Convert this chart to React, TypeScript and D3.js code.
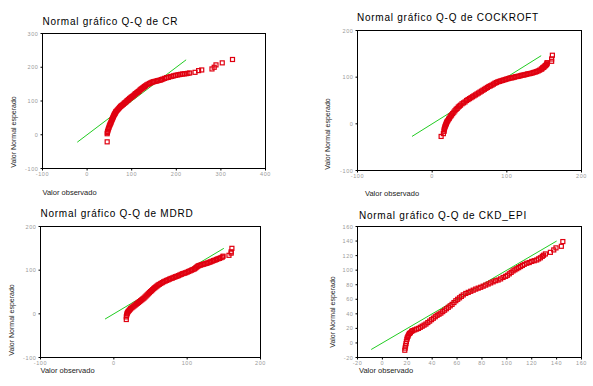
import React from 'react';
import * as d3 from 'd3';

// observed value, expected normal value
const CR_POINTS: [number, number][] = [
  [45, -21], [45, 3], [45.5, 7], [46, 10], [47, 14], [48, 18], [49, 22], [50, 26], [51, 29], [52, 32],
  [53, 35], [54, 38], [55, 42], [56, 45], [57, 48], [58, 51], [59, 54], [60, 57], [61, 60], [62, 62],
  [63, 64], [64, 67], [65, 69], [67, 72], [69, 75], [71, 78], [73, 81], [75, 84], [77, 86], [79, 88],
  [81, 90], [83, 93], [85, 95], [87, 97], [89, 100], [91, 102], [93, 104], [95, 107], [97, 109], [99, 111],
  [101, 113], [103, 115], [105, 117], [107, 120], [109, 122], [111, 124], [113, 126], [115, 128], [117, 130],
  [119, 133], [121, 135], [123, 137], [125, 139], [127, 141], [129, 143], [131, 145], [134, 148], [137, 150],
  [140, 152], [143, 154], [146, 156], [149, 157], [152, 158], [155, 159], [158, 160], [161, 161], [164, 162],
  [167, 163.5], [170, 165], [174, 167], [178, 169], [182, 170], [186, 172], [190, 173], [194, 174.5],
  [198, 176], [202, 177], [206, 178], [210, 179], [214, 180], [218, 180.5], [222, 181], [226, 182], [230, 183],
  [242, 185], [250, 190], [257, 192], [280, 195], [285, 200], [289, 207], [303, 213], [326, 223],
];

const COCKROFT_POINTS: [number, number][] = [
  [12, -27], [15, -21], [16, -16], [16, -13], [16.5, -10], [17, -7], [17.5, -5], [18, -3], [18.5, -1], [19, 1],
  [19.5, 3], [20, 5], [21, 7], [22, 10], [23, 12], [24, 15], [25, 17], [26, 19], [27.5, 22], [29, 25],
  [30.5, 28], [32, 31], [33.5, 33], [35, 36], [36.5, 38], [38, 40], [40, 43], [42, 45], [44, 47], [46, 50],
  [48, 52], [50, 54], [52, 56], [54, 58], [56, 60], [58, 62], [60, 64], [62, 66], [64, 68], [66, 70],
  [68, 72], [70, 74], [72, 76], [74, 78], [76, 80], [78, 81.5], [80, 83], [82, 85], [84, 87], [86, 88.5],
  [88, 90], [90, 91], [92, 92], [94, 93], [96, 94], [98, 95], [100, 96], [102, 97], [104, 98], [106, 98.5],
  [108, 99], [110, 100], [112, 101], [114, 101.5], [116, 102], [118, 103], [120, 104], [122, 104.5],
  [124, 105], [126, 106], [128, 107], [130, 107.5], [132, 108], [134, 109], [136, 110], [138, 111],
  [140, 112], [142, 113.5], [144, 115], [146, 117], [147, 118], [148, 120], [149, 121], [150, 122],
  [151, 124], [152, 125], [153, 127], [153.5, 128], [154, 130], [154, 131], [160, 134], [160, 139], [161, 147],
];

const MDRD_POINTS: [number, number][] = [
  [17, -13], [17, -7], [17.5, -3], [18, 0], [18.5, 2], [19, 4], [20, 6], [21, 8], [22, 10], [23, 12],
  [24.5, 14], [26, 16], [27.5, 18], [29, 20], [30.5, 22], [32, 24], [33.5, 26], [35, 28], [36.5, 30],
  [38, 32], [39.5, 34], [41, 36], [42.5, 38.5], [44, 41], [45.5, 43.5], [47, 46], [48.5, 48.5], [50, 51],
  [51.5, 53], [53, 55.5], [54.5, 58], [56, 60], [57.5, 62], [59, 64], [60.5, 66], [62, 67.5], [64, 69.5],
  [66, 71.5], [68, 73.5], [70, 75], [72, 76.5], [74, 78], [76, 79.5], [78, 81], [80, 82], [82, 83.5],
  [84, 85], [86, 86], [88, 87.5], [90, 89], [92, 90.5], [94, 92], [96, 93], [98, 94], [100, 95.5],
  [102, 97], [104, 98.5], [106, 100], [108, 101.5], [110, 103], [111.5, 105], [113, 107], [114.5, 109],
  [116, 110.5], [118, 111.5], [120, 112.5], [122, 113.5], [124, 114.5], [126, 115.5], [128, 116.5],
  [130, 118], [132, 119], [134, 120.5], [136, 122], [138, 123], [140, 124.5], [142, 126], [144, 127],
  [146, 128.5], [148, 130], [149, 132], [157, 134], [160, 139], [160, 142], [161, 150],
];

const CKD_EPI_POINTS: [number, number][] = [
  [18, -10], [18.3, -7], [18.6, -4], [19, -1], [19.3, 2], [19.7, 5], [20, 7], [20.5, 9], [21, 11],
  [21.7, 13], [22.5, 14], [23.5, 16], [24.5, 17], [26, 18], [27.5, 19], [29, 20], [30.5, 21.5], [32, 23],
  [33.5, 24.5], [35, 26], [36.5, 28], [38, 30], [39.5, 32], [41, 34], [42.5, 36], [44, 38], [45.5, 39.5],
  [47, 41], [48.5, 43], [50, 45], [51.5, 47], [53, 49], [54.5, 51], [56, 53], [57.5, 55.5], [59, 58],
  [60.5, 60], [62, 62], [63.5, 64], [65, 66], [67, 68], [69, 69.5], [71, 71], [73, 72.5], [75, 74],
  [77, 75.3], [79, 76.5], [81, 78], [83, 79.5], [85, 81], [87, 82.5], [89, 84], [91, 85.5], [93, 86.5],
  [95, 88], [97, 90], [99, 91.5], [100.5, 93], [102, 95], [103.5, 97], [105, 99], [106.5, 100.5],
  [108, 102], [109.5, 103.5], [111, 105], [112.5, 106.5], [114, 108], [116, 109.5], [118, 110.5],
  [120, 112], [122, 113], [124, 114], [125.5, 115.5], [127, 117], [128.5, 119], [129.5, 120.5],
  [131, 122.3], [135, 124.5], [137.7, 127.8], [139.5, 130.6], [143.8, 132.8], [145, 139.3],
];

// y = x reference line, start and end on the observed axis
const CR_LINE = [-22, 222];
const COCKROFT_LINE = [-27, 146];
const MDRD_LINE = [-12, 150];
const CKD_EPI_LINE = [-9, 140];

const CR_X_TICKS = [-100, 0, 100, 200, 300, 400];
const CR_Y_TICKS = [-100, 0, 100, 200, 300];
const GFR_TICKS = [-100, 0, 100, 200];
const CKD_TICKS = [-20, 0, 20, 40, 60, 80, 100, 120, 140, 160];

const Y_TITLE = 'Valor Normal esperado';
const X_TITLE = 'Valor observado';

interface PanelProps {
  title: string;
  points: [number, number][];
  refLine: number[];
  xTicks: number[];
  yTicks: number[];
  frame: { x0: number; x1: number; y0: number; y1: number };
  titlePos: [number, number];
  yTitlePos: [number, number];
  xTitlePos: [number, number];
}

const QQPanel: React.FC<PanelProps> = ({ title, points, refLine, xTicks, yTicks, frame, titlePos, yTitlePos, xTitlePos }) => {
  const x = d3.scaleLinear().domain(d3.extent(xTicks) as [number, number]).range([frame.x0, frame.x1]);
  const y = d3.scaleLinear().domain(d3.extent(yTicks) as [number, number]).range([frame.y1, frame.y0]);
  const s = 4;

  return (
    <g>
      <text x={titlePos[0]} y={titlePos[1]} fontSize={10} letterSpacing={0.75} fill="#000">{title}</text>
      <rect x={frame.x0} y={frame.y0} width={frame.x1 - frame.x0} height={frame.y1 - frame.y0} fill="#fff" stroke="#000" strokeWidth={1} />
      {yTicks.map(t => (
        <g key={'y' + t}>
          <line x1={frame.x0 - 2} x2={frame.x0} y1={y(t)} y2={y(t)} stroke="#000" />
          <text x={frame.x0 - 4} y={y(t) + 2} fontSize={5.5} letterSpacing={0.6} textAnchor="end" fill="#999">{t}</text>
        </g>
      ))}
      {xTicks.map(t => (
        <g key={'x' + t}>
          <line x1={x(t)} x2={x(t)} y1={frame.y1} y2={frame.y1 + 2} stroke="#000" />
          <text x={x(t)} y={frame.y1 + 7.5} fontSize={5.5} letterSpacing={0.6} textAnchor="middle" fill="#999">{t}</text>
        </g>
      ))}
      <line x1={x(refLine[0])} y1={y(refLine[0])} x2={x(refLine[1])} y2={y(refLine[1])} stroke="#22cc22" strokeWidth={1} />
      {points.map((p, i) => (
        <rect key={i} x={x(p[0]) - s / 2} y={y(p[1]) - s / 2} width={s} height={s} fill="none" stroke="#e00010" strokeWidth={1.2} />
      ))}
      <text transform={`translate(${yTitlePos[0]},${yTitlePos[1]}) rotate(-90)`} fontSize={7} textAnchor="middle" fill="#222">{Y_TITLE}</text>
      <text x={xTitlePos[0]} y={xTitlePos[1]} fontSize={7.5} fill="#222">{X_TITLE}</text>
    </g>
  );
};

export default function App() {
  return (
    <svg width={593} height={386} style={{ position: 'absolute', left: 0, top: 0, fontFamily: 'Liberation Sans, Arial, sans-serif', background: '#fff' }}>
      <QQPanel title="Normal gráfico Q-Q de CR" points={CR_POINTS} refLine={CR_LINE}
        xTicks={CR_X_TICKS} yTicks={CR_Y_TICKS}
        frame={{ x0: 42.5, x1: 265.5, y0: 33.5, y1: 168.5 }}
        titlePos={[42.5, 24.5]} yTitlePos={[16, 132]} xTitlePos={[42.5, 195]} />
      <QQPanel title="Normal gráfico Q-Q de COCKROFT" points={COCKROFT_POINTS} refLine={COCKROFT_LINE}
        xTicks={GFR_TICKS} yTicks={GFR_TICKS}
        frame={{ x0: 357.5, x1: 581.5, y0: 30.5, y1: 170.5 }}
        titlePos={[357, 21]} yTitlePos={[330, 134]} xTitlePos={[365, 196]} />
      <QQPanel title="Normal gráfico Q-Q de MDRD" points={MDRD_POINTS} refLine={MDRD_LINE}
        xTicks={GFR_TICKS} yTicks={GFR_TICKS}
        frame={{ x0: 40.5, x1: 260.5, y0: 226.5, y1: 357.5 }}
        titlePos={[40.5, 217]} yTitlePos={[14, 320]} xTitlePos={[40.5, 373]} />
      <QQPanel title="Normal gráfico Q-Q de CKD_EPI" points={CKD_EPI_POINTS} refLine={CKD_EPI_LINE}
        xTicks={CKD_TICKS} yTicks={CKD_TICKS}
        frame={{ x0: 357.5, x1: 581.5, y0: 226.5, y1: 357.5 }}
        titlePos={[359, 219]} yTitlePos={[335, 312]} xTitlePos={[359, 373]} />
    </svg>
  );
}
